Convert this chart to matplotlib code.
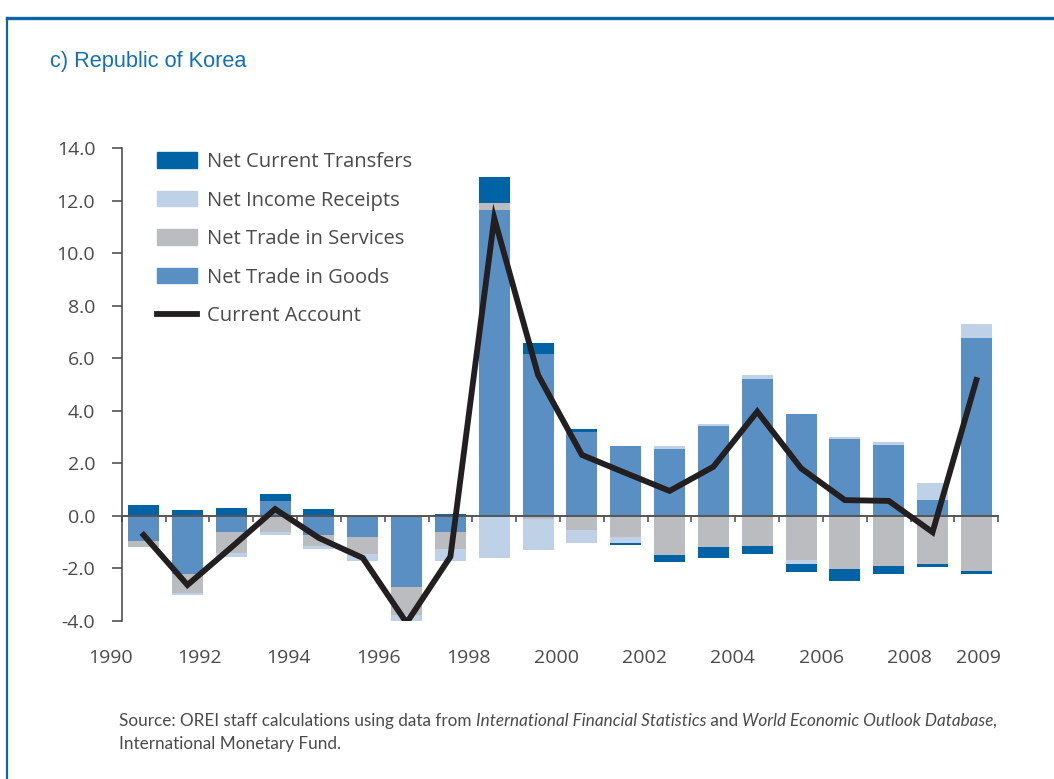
import numpy as np
import matplotlib
matplotlib.use('Agg')
import matplotlib.pyplot as plt
from matplotlib.patches import Patch
from matplotlib.lines import Line2D
import matplotlib.transforms as mtransforms

# values, % of GDP
years = list(range(1990, 2010))
goods = [-0.95, -2.22, -0.61, 0.55, -0.72, -0.82, -2.70, -0.63, 11.63, 6.17,
         3.21, 2.67, 2.55, 3.42, 5.21, 3.88, 2.93, 2.70, 0.61, 6.77]
services = [-0.25, -0.70, -0.82, -0.61, -0.43, -0.62, -1.07, -0.62, 0.28, -0.13,
            -0.55, -0.79, -1.48, -1.17, -1.13, -1.67, -2.02, -1.90, -1.83, -2.10]
income = [0.0, -0.09, -0.15, -0.10, -0.10, -0.27, -0.33, -0.48, -1.62, -1.16,
          -0.49, -0.23, 0.12, 0.08, 0.15, -0.15, 0.07, 0.11, 0.65, 0.53]
transfers = [0.42, 0.23, 0.30, 0.29, 0.27, 0.0, 0.0, 0.09, 0.99, 0.41,
             0.10, -0.10, -0.27, -0.45, -0.33, -0.33, -0.46, -0.33, -0.10, -0.10]
current_account = [-0.73, -2.63, -1.20, 0.26, -0.84, -1.60, -4.07, -1.55, 11.33, 5.36,
                   2.32, 1.63, 0.95, 1.87, 3.97, 1.81, 0.60, 0.57, -0.62, 5.17]

xlabels = ['1990', '1992', '1994', '1996', '1998', '2000', '2002', '2004', '2006', '2008', '2009']
xlabel_pos = [-0.75, 1.28, 3.31, 5.36, 7.41, 9.41, 11.42, 13.44, 15.47, 17.48, 19.05]

C_GOODS = '#5a8fc3'
C_SERV = '#bbbcc0'
C_INC = '#bfd1e7'
C_TRANS = '#0063a6'
C_LINE = '#231f20'
C_TEXT = '#4a4a4a'
BLUE = '#1470b4'

plt.rcParams['font.family'] = ['Open Sans', 'DejaVu Sans']

fig = plt.figure(figsize=(10.54, 7.79), dpi=100)
ax = fig.add_axes([121.7 / 1054, (779 - 621) / 779, 876.6 / 1054, 473 / 779])

x = np.arange(len(years))
pos_base = np.zeros(len(years))
neg_base = np.zeros(len(years))
for vals, col in [(goods, C_GOODS), (services, C_SERV), (income, C_INC), (transfers, C_TRANS)]:
    v = np.array(vals)
    bottom = np.where(v >= 0, pos_base, neg_base)
    ax.bar(x, v, width=0.71, bottom=bottom, color=col, linewidth=0, zorder=2)
    pos_base += np.clip(v, 0, None)
    neg_base += np.clip(v, None, 0)

ax.plot(x, current_account, color=C_LINE, lw=4.2, solid_joinstyle='miter', zorder=4)

ax.set_xlim(-0.5, 19.5)
ax.set_ylim(-4, 14)
yt = np.arange(-4, 15, 2)
ax.set_yticks(yt)
ax.set_yticklabels([f"{v:.1f}" for v in yt], fontsize=14, color=C_TEXT)
ax.set_xticks(np.arange(-0.5, 20, 1))
ax.set_xticklabels([])

for s in ['top', 'right']:
    ax.spines[s].set_visible(False)
ax.spines['left'].set_color('#444444')
ax.spines['left'].set_linewidth(1.1)
ax.spines['bottom'].set_position(('data', 0))
ax.spines['bottom'].set_color('#555555')
ax.spines['bottom'].set_linewidth(1.4)
ax.spines['bottom'].set_zorder(3)
ax.tick_params(axis='y', direction='out', length=7, width=1.1, color='#444444', pad=12)
ax.tick_params(axis='x', direction='out', length=4.5, width=1.2, color='#555555')

trans = mtransforms.blended_transform_factory(ax.transData, ax.transAxes)
for lab, p in zip(xlabels, xlabel_pos):
    ax.text(p, -0.078, lab, transform=trans, ha='center', va='center',
            fontsize=14, color=C_TEXT)

handles = [Patch(color=C_TRANS), Patch(color=C_INC), Patch(color=C_SERV), Patch(color=C_GOODS),
           Line2D([], [], color=C_LINE, lw=4.2)]
names = ['Net Current Transfers', 'Net Income Receipts', 'Net Trade in Services',
         'Net Trade in Goods', 'Current Account']
leg = ax.legend(handles, names, loc='upper left', bbox_to_anchor=(157 / 1054, 1 - 152 / 779),
                bbox_transform=fig.transFigure, frameon=False, fontsize=14.5,
                handlelength=2.0, handleheight=0.8, handletextpad=0.5,
                labelspacing=0.92, borderpad=0, borderaxespad=0)
for t in leg.get_texts():
    t.set_color(C_TEXT)

fig.text(50 / 1054, 1 - 61 / 779, 'c) Republic of Korea', color=BLUE, fontsize=15.7,
         family='Liberation Sans', va='center', ha='left')

# frame lines at the top and left
fig.add_artist(Line2D([7 / 1054, 1], [1 - 18 / 779, 1 - 18 / 779], color='#0b63a8', lw=2.4,
                      transform=fig.transFigure))
fig.add_artist(Line2D([7 / 1054, 7 / 1054], [0, 1 - 18 / 779], color='#0b63a8', lw=1.6,
                      transform=fig.transFigure))

# source note with italic titles
src_kw = dict(fontsize=12.35, color=C_TEXT, family='Lato')
t = fig.text(119 / 1054, 1 - 729 / 779, 'Source: OREI staff calculations using data from',
             va='bottom', ha='left', **src_kw)
pieces = [(' International Financial Statistics', 'italic'), (' and', 'normal'),
          (' World Economic Outlook Database,', 'italic')]
for s, st in pieces:
    t = ax.annotate(s, xy=(1, 0), xycoords=t, va='bottom', ha='left',
                    style=st, annotation_clip=False, **src_kw)
fig.text(119 / 1054, 1 - 752 / 779, 'International Monetary Fund.', va='bottom', ha='left', **src_kw)

fig.savefig('out.png', dpi=100)
